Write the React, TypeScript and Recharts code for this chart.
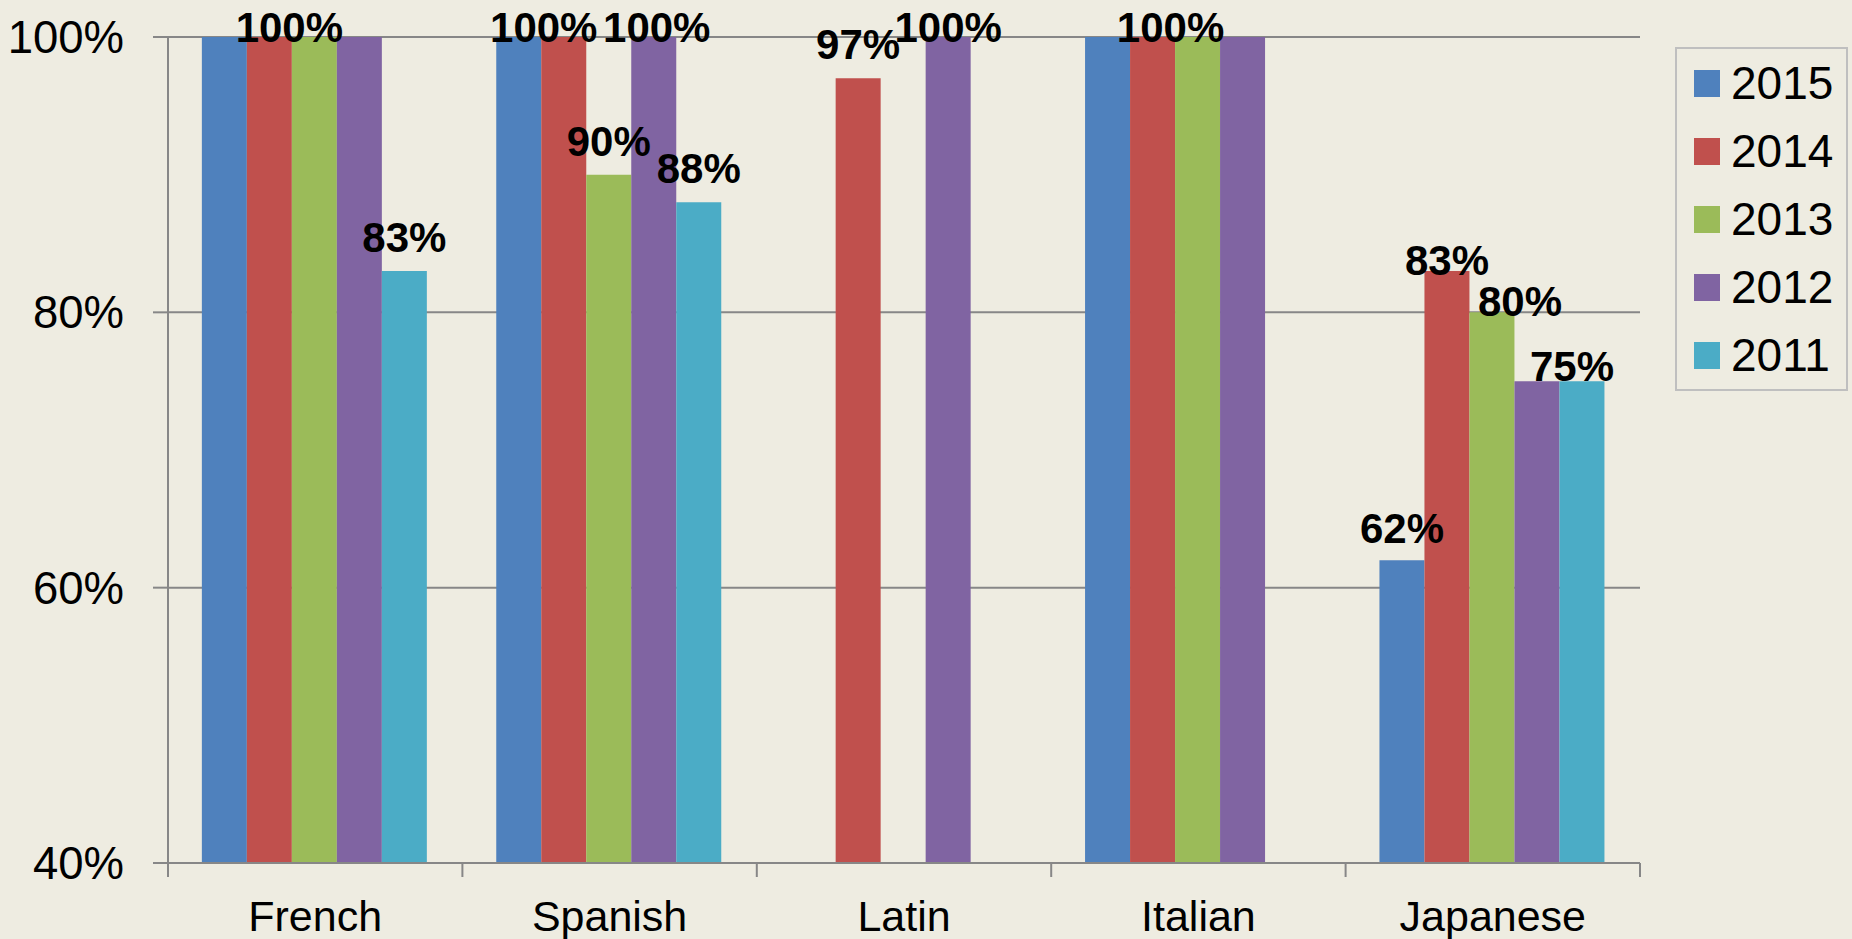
import { Bar, BarChart, CartesianGrid, LabelList, Legend, XAxis, YAxis } from "recharts"

const languages = ["French", "Spanish", "Latin", "Italian", "Japanese"]
const years = ["2015", "2014", "2013", "2012", "2011"]

const pass2015 = [100, 100, null, 100, 62]
const pass2014 = [100, 100, 97, 100, 83]
const pass2013 = [100, 90, null, 100, 80]
const pass2012 = [100, 100, 100, 100, 75]
const pass2011 = [83, 88, null, null, 75]

const yTicks = [40, 60, 80, 100]

const colors = ["#4F81BD", "#C0504D", "#9BBB59", "#8064A2", "#4BACC6"]
const seriesValues = [pass2015, pass2014, pass2013, pass2012, pass2011]

// labels that sit under another identical label in the original
const hiddenLabels = [
    "2015|French", "2013|French", "2012|French",
    "2014|Spanish",
    "2015|Italian", "2013|Italian", "2012|Italian",
    "2012|Japanese",
]

// manual label nudges [dx, dy]
const labelNudge: Record<string, [number, number]> = {
    "2014|French": [20, 24],
    "2015|Spanish": [25, 24],
    "2012|Spanish": [3, 24],
    "2012|Latin": [0, 24],
    "2014|Italian": [18, 24],
    "2015|Japanese": [0, 2],
    "2014|Japanese": [0, 23],
    "2013|Japanese": [28, 23],
    "2011|Japanese": [-10, 19],
}

const rows = languages.map((lang, i) => {
    const row: Record<string, string | number | null> = { lang }
    years.forEach((y, s) => {
        row[y] = seriesValues[s][i]
    })
    return row
})

const W = 1852
const H = 939
const MARGIN = { top: 37, right: 212, bottom: 0, left: 0 }
const Y_WIDTH = 168
const BAND = (W - MARGIN.right - MARGIN.left - Y_WIDTH) / languages.length

const FONT = '"Liberation Sans", Arial, sans-serif'
const GRID = "#878787"

const XTick = (props: any) => {
    const { x, y, payload, index } = props
    const half = payload?.offset ?? BAND / 2
    return (
        <g>
            <line x1={x - half} y1={y} x2={x - half} y2={y + 14} stroke={GRID} strokeWidth={2} />
            {index === languages.length - 1 && (
                <line x1={x + half} y1={y} x2={x + half} y2={y + 14} stroke={GRID} strokeWidth={2} />
            )}
            <text x={x} y={y + 68} textAnchor="middle" fontSize={43} fontFamily={FONT} fill="#000">
                {payload.value}
            </text>
        </g>
    )
}

const makeLabel = (year: string) => (props: any) => {
    const { x, y, width, value } = props
    if (value == null) return null
    const cx = x + width / 2
    const cat = Math.floor((cx - MARGIN.left - Y_WIDTH) / BAND)
    const key = `${year}|${languages[cat]}`
    if (hiddenLabels.includes(key)) return null
    const [dx, dy] = labelNudge[key] ?? [0, 0]
    return (
        <text
            x={cx + dx}
            y={y - 19 + dy}
            textAnchor="middle"
            fontSize={42}
            fontWeight="bold"
            fontFamily={FONT}
            fill="#000"
        >
            {`${value}%`}
        </text>
    )
}

const LegendBox = () => (
    <div
        style={{
            boxSizing: "border-box",
            width: 173,
            height: 344,
            border: "2px solid #BFBFBF",
            paddingLeft: 17,
            fontFamily: FONT,
        }}
    >
        {years.map((y, s) => (
            <div key={y} style={{ display: "flex", alignItems: "center", height: 68 }}>
                <span style={{ width: 26, height: 27, background: colors[s], marginRight: 11, display: "inline-block" }} />
                <span style={{ fontSize: 46, color: "#000", lineHeight: "46px" }}>{y}</span>
            </div>
        ))}
    </div>
)

export default function App() {
    return (
        <div style={{ position: "absolute", left: 0, top: 0, width: W, height: H, background: "#EEECE1" }}>
            <BarChart
                width={W}
                height={H}
                data={rows}
                margin={MARGIN}
                barCategoryGap="11.5%"
                barGap={0}
            >
                <CartesianGrid vertical={false} stroke={GRID} strokeWidth={2} />
                <XAxis
                    dataKey="lang"
                    height={76}
                    interval={0}
                    tickLine={false}
                    tickSize={0}
                    tickMargin={0}
                    axisLine={{ stroke: GRID, strokeWidth: 2 }}
                    tick={<XTick />}
                />
                <YAxis
                    width={Y_WIDTH}
                    domain={[40, 100]}
                    ticks={yTicks}
                    interval={0}
                    tickSize={15}
                    tickMargin={29}
                    tickFormatter={(v: number) => `${v}%`}
                    axisLine={{ stroke: GRID, strokeWidth: 2 }}
                    tickLine={{ stroke: GRID, strokeWidth: 2 }}
                    tick={{ fill: "#000", fontSize: 45.5, fontFamily: FONT }}
                />
                <Legend
                    layout="vertical"
                    align="center"
                    verticalAlign="middle"
                    content={<LegendBox />}
                    wrapperStyle={{ position: "absolute", left: 1675, top: 47, width: 173, height: 344 }}
                />
                {years.map((y, s) => (
                    <Bar key={y} dataKey={y} name={y} fill={colors[s]} isAnimationActive={false}>
                        <LabelList dataKey={y} content={makeLabel(y)} />
                    </Bar>
                ))}
            </BarChart>
        </div>
    )
}
